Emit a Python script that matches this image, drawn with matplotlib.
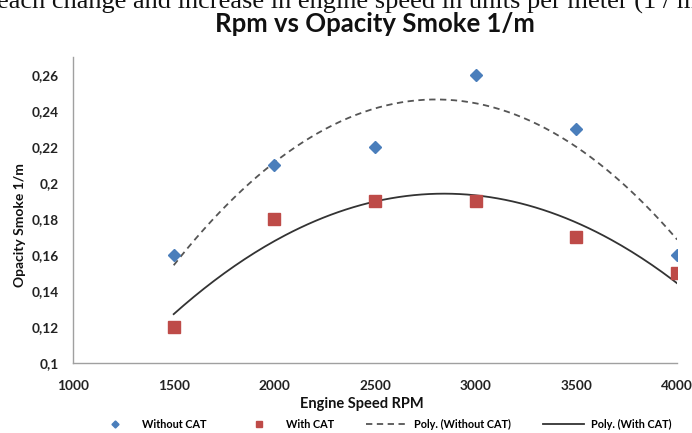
import matplotlib

matplotlib.use("Agg")
import matplotlib.pyplot as plt
import numpy as np
from matplotlib.ticker import FuncFormatter

# values
RPM = [1500, 2000, 2500, 3000, 3500, 4000]
WITHOUT_CAT = [0.16, 0.21, 0.22, 0.26, 0.23, 0.16]
WITH_CAT = [0.12, 0.18, 0.19, 0.19, 0.17, 0.15]
X_TICKS = [1000, 1500, 2000, 2500, 3000, 3500, 4000]
Y_TICKS = [0.1, 0.12, 0.14, 0.16, 0.18, 0.2, 0.22, 0.24, 0.26]

BLUE = "#4A7EBB"
RED = "#BE4B48"
FONT = ["Lato", "DejaVu Sans"]

plt.rcParams.update({"font.family": FONT})
fig = plt.figure(figsize=(6.92, 4.33), dpi=100)
ax = fig.add_axes([0.1055, 0.1617, 0.873, 0.7067])

ax.plot(RPM, WITHOUT_CAT, ls="none", marker="D", ms=6.5, color=BLUE,
        label="Without CAT", zorder=3)
ax.plot(RPM, WITH_CAT, ls="none", marker="s", ms=9, color=RED,
        label="With CAT", zorder=3)

# order-2 polynomial trend lines (as Excel's "Poly." trendline)
xs = np.linspace(RPM[0], RPM[-1], 200)
p1 = np.polyfit(RPM, WITHOUT_CAT, 2)
p2 = np.polyfit(RPM, WITH_CAT, 2)
ax.plot(xs, np.polyval(p1, xs), ls=(0, (3.5, 2.5)), lw=1.3, color="#555555",
        label="Poly. (Without CAT)", zorder=2)
ax.plot(xs, np.polyval(p2, xs), ls="-", lw=1.3, color="#333333",
        label="Poly. (With CAT)", zorder=2)

ax.set_xlim(1000, 4000)
ax.set_ylim(0.1, 0.27)
ax.set_xticks(X_TICKS)
ax.set_yticks(Y_TICKS)
ax.yaxis.set_major_formatter(FuncFormatter(lambda v, _: f"{v:g}".replace(".", ",")))
ax.tick_params(length=0, labelsize=9.8, colors="#222222")
ax.tick_params(axis="y", pad=10)
ax.tick_params(axis="x", pad=12)
for lbl in ax.get_xticklabels() + ax.get_yticklabels():
    lbl.set_fontweight("bold")
for s in ("top", "right"):
    ax.spines[s].set_visible(False)
for s in ("left", "bottom"):
    ax.spines[s].set_color("#a0a0a0")
    ax.spines[s].set_linewidth(1.0)

ax.set_xlabel("Engine Speed RPM", fontsize=10.5, fontweight="bold", color="#111111")
ax.set_ylabel("Opacity Smoke 1/m", fontsize=10, fontweight="bold", color="#111111")
ax.xaxis.set_label_coords(0.478, -0.11)
ax.yaxis.set_label_coords(-0.077, 0.45)

fig.text(0.542, 0.944, "Rpm vs Opacity Smoke 1/m", ha="center", va="center",
         fontsize=18.5, fontweight="bold", color="#111111")
# cropped line of surrounding document text at the very top
fig.text(-0.004, 0.967, "each change and increase in engine speed in units per meter (1 / m",
         ha="left", va="bottom", fontsize=19, family="Liberation Serif", color="#111111")

fig.legend(loc="center", bbox_to_anchor=(0.553, 0.019), ncol=4, frameon=False,
           prop={"family": FONT, "weight": "bold", "size": 7.8},
           handlelength=3.8, handletextpad=0.65, columnspacing=2.9, markerscale=0.55)

fig.savefig("out.png", dpi=100, facecolor="white")
